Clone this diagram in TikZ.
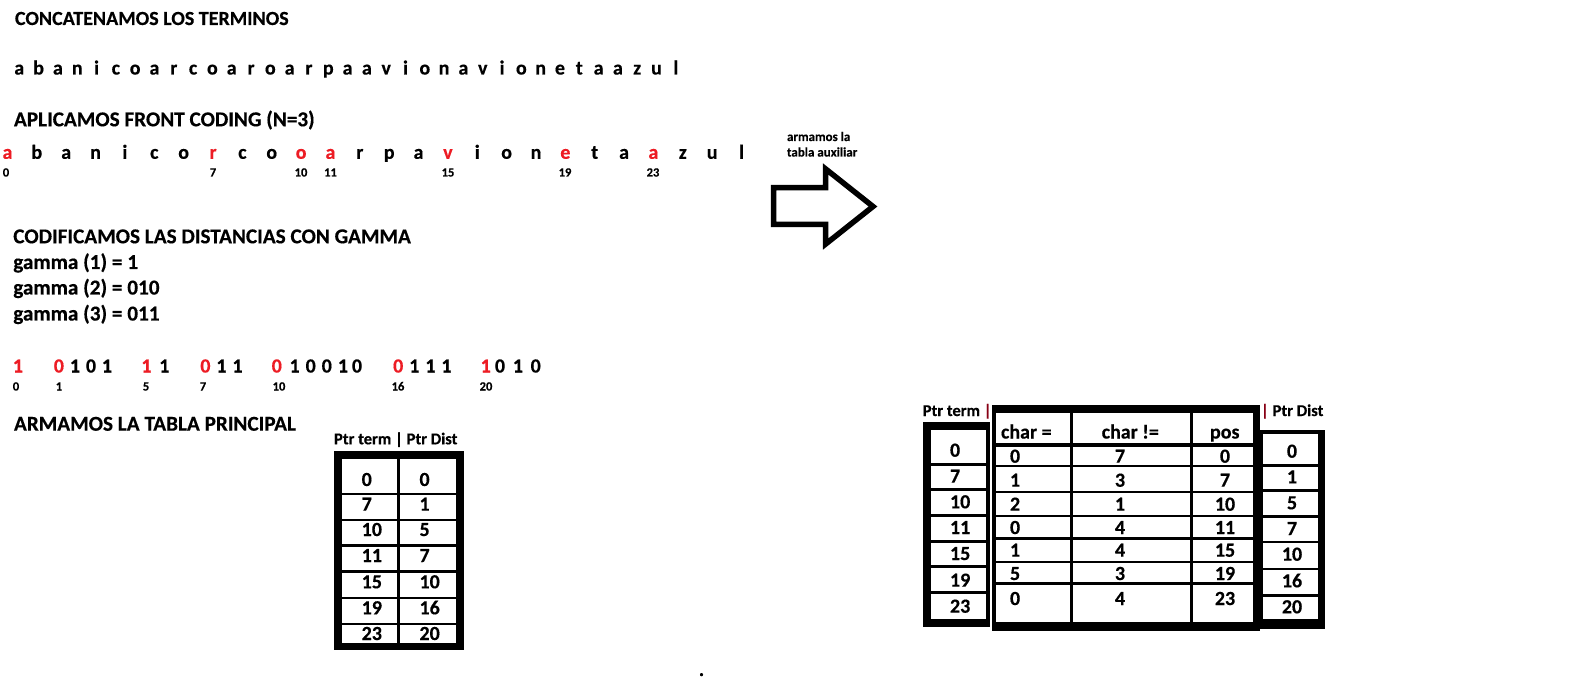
\documentclass[tikz,border=0pt]{standalone}
\usepackage{fontspec}
\setmainfont{Carlito}[BoldFeatures={FakeBold=0.4}]
\definecolor{pred}{RGB}{237,28,36}
\definecolor{pdred}{RGB}{136,0,21}
\begin{document}
\begin{tikzpicture}[x=1pt,y=-1pt,
  every node/.style={inner sep=0pt,outer sep=0pt},
  big/.style={font=\fontsize{20}{24}\selectfont\bfseries},
  bigger/.style={font=\fontsize{21.2}{25}\selectfont\bfseries},
  head/.style={bigger,anchor=base west},
  ltr/.style={big,anchor=base},
  idx/.style={font=\fontsize{12.5}{14}\selectfont\bfseries,anchor=base},
  numw/.style={big,anchor=base west},
  numc/.style={big,anchor=base},
  ttl/.style={font=\fontsize{16.5}{19}\selectfont\bfseries,anchor=base west},
  note/.style={font=\fontsize{13}{15}\selectfont\bfseries,anchor=base west},
  cell/.style={fill=white},
  frame/.style={fill=black},
]
\useasboundingbox (0,0) rectangle (1592,692);
\fill[white] (0,0) rectangle (1592,692);

% headings
\node[head,big] (h1) at (15,25) {CONCATENAMOS LOS TERMINOS};
\node[head] (h2) at (14,126.3) {APLICAMOS FRONT CODING (N=3)};
\node[head] (h3) at (13.3,243.3) {CODIFICAMOS LAS DISTANCIAS CON GAMMA};
\node[head] (g1) at (13.3,269) {gamma (1) = 1};
\node[head] (g2) at (13.3,294.5) {gamma (2) = 010};
\node[head] (g3) at (13.3,320.5) {gamma (3) = 011};
\node[head] (h4) at (14,430.7) {ARMAMOS LA TABLA PRINCIPAL};

% row 1: concatenated terms
\foreach \c [count=\i from 0] in {a,b,a,n,i,c,o,a,r,c,o,a,r,o,a,r,p,a,a,v,i,o,n,a,v,i,o,n,e,t,a,a,z,u,l}
  \node[ltr] (ra\i) at ({19.3+19.31*\i},74.5) {\c};

% row 2: front coding
\foreach \c/\col [count=\i from 0] in {a/pred,b/black,a/black,n/black,i/black,c/black,o/black,r/pred,c/black,o/black,o/pred,a/pred,r/black,p/black,a/black,v/pred,i/black,o/black,n/black,e/pred,t/black,a/black,a/pred,z/black,u/black,l/black}
  \node[ltr,text=\col] (rb\i) at ({7.5+29.36*\i},158.8) {\c};
\foreach \t/\x in {0/6,7/213,10/301,11/330.5,15/448,19/565,23/653}
  \node[idx] (lb\t) at (\x,176.5) {\t};

% arrow and note
\node[note] (n1) at (787,141) {armamos la};
\node[note] (n2) at (787,156.5) {tabla auxiliar};
\draw[line width=5.5pt,line join=miter] (773.5,187.7) -- (825.7,187.7) -- (825.7,169) -- (873,206.5) -- (825.7,244) -- (825.7,224.3) -- (773.5,224.3) -- cycle;

% gamma row
\foreach \d/\x/\col in {1/17.9/pred,
  0/58.9/pred,1/75/black,0/91/black,1/107/black,
  1/146.4/pred,1/164.3/black,
  0/205.4/pred,1/221.4/black,1/237.5/black,
  0/276.8/pred,1/294.6/black,0/310.7/black,0/326.8/black,1/342.9/black,0/357/black,
  0/398.2/pred,1/414.3/black,1/430.4/black,1/446.4/black,
  1/485.7/pred,0/500/black,1/517.9/black,0/535.7/black}
  \node[ltr,text=\col] at (\x,372.5) {\d};
\foreach \t/\x in {0/16,1/59,5/146,7/203,10/279,16/398,20/486}
  \node[idx] (lg\t) at (\x,390.5) {\t};

% main table
\node[ttl] (mt) at (334,444.3) {Ptr term | Ptr Dist};
\fill[frame] (334,451) rectangle (464,650);
\foreach \ya/\yb in {459.3/492.7,494.7/518.7,520.7/544.3,546.7/570.3,572.7/596.7,598.7/622.7,625/643.3}{
  \fill[cell] (342.3,\ya) rectangle (397.3,\yb);
  \fill[cell] (400,\ya) rectangle (456,\yb);
}
\foreach \a/\b/\y in {0/0/486,7/1/510.7,10/5/536,11/7/562,15/10/588.3,19/16/614.3,23/20/640}{
  \node[numw] at (361.7,\y) {\a};
  \node[numw] at (419.5,\y) {\b};
}

% right: Ptr term table
\node[ttl] (rt1) at (922.7,416) {Ptr term \textcolor{pdred}{|}};
\fill[frame] (922.7,422.3) rectangle (990,626.7);
\foreach \ya/\yb in {430/462.7,466/488.3,491/514,516.7/540,543.3/565,568.3/591,594/619.3}
  \fill[cell] (930.7,\ya) rectangle (986,\yb);
\foreach \a/\y in {0/456.7,7/482.7,10/508.3,11/534,15/560,19/586.7,23/612.7}
  \node[numw] at (950,\y) {\a};

% right: auxiliary table
\fill[frame] (991.5,405) rectangle (1260,631);
\foreach \ya/\yb in {412.7/443.3,446.7/465,467.3/490.7,493.3/515,517.3/537.3,540/560.7,563.3/582.3,585/621.7}{
  \fill[cell] (996,\ya) rectangle (1070,\yb);
  \fill[cell] (1072.7,\ya) rectangle (1190,\yb);
  \fill[cell] (1193.3,\ya) rectangle (1252.7,\yb);
}
\node[numw] (c1) at (1001,438.5) {char =};
\node[numw] (c2) at (1101.7,438.5) {char !=};
\node[numw] (c3) at (1210,438.5) {pos};
\foreach \a/\b/\c/\y in {0/7/0/462.7,1/3/7/486.7,2/1/10/510.7,0/4/11/534,1/4/15/556.7,5/3/19/580,0/4/23/605}{
  \node[numw] at (1010,\y) {\a};
  \node[numc] at (1120,\y) {\b};
  \node[numc] at (1225,\y) {\c};
}

% right: Ptr Dist table
\node[ttl] (rt2) at (1261,416) {\textcolor{pdred}{|} Ptr Dist};
\fill[frame] (1260,430) rectangle (1325,629);
\foreach \ya/\yb in {434/464,466.7/489,491.7/515,517.7/540.7,543.3/567.7,570.3/594,596.7/619.3}
  \fill[cell] (1263.3,\ya) rectangle (1317.5,\yb);
\foreach \a/\y in {0/457.7,1/483.3,5/509.3,7/535,10/560.7,16/587.3,20/613.3}
  \node[numc] at (1292,\y) {\a};

% dot
\node[ltr] (dot) at (701.5,676) {.};
\end{tikzpicture}
\end{document}
